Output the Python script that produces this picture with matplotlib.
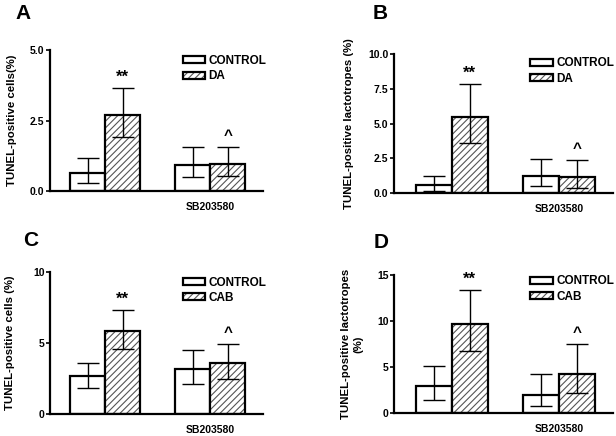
import matplotlib
matplotlib.use("Agg")
import matplotlib.pyplot as plt
from matplotlib.patches import Patch
from matplotlib.legend_handler import HandlerTuple

plt.rcParams['font.family'] = ['Liberation Sans', 'DejaVu Sans']
plt.rcParams['font.weight'] = 'bold'
plt.rcParams['hatch.linewidth'] = 0.8

groups = ["", "SB203580"]

# Panel A
a_ctrl = [0.63, 0.93]
a_ctrl_lo = [0.30, 0.51]
a_ctrl_hi = [1.16, 1.57]
a_trt = [2.70, 0.96]
a_trt_lo = [1.93, 0.53]
a_trt_hi = [3.66, 1.57]

# Panel B
b_ctrl = [0.60, 1.25]
b_ctrl_lo = [0.19, 0.48]
b_ctrl_hi = [1.20, 2.47]
b_trt = [5.47, 1.13]
b_trt_lo = [3.60, 0.36]
b_trt_hi = [7.84, 2.40]

# Panel C
c_ctrl = [2.64, 3.13]
c_ctrl_lo = [1.84, 2.12]
c_ctrl_hi = [3.60, 4.49]
c_trt = [5.84, 3.58]
c_trt_lo = [4.59, 2.49]
c_trt_hi = [7.29, 4.89]

# Panel D
d_ctrl = [2.96, 1.99]
d_ctrl_lo = [1.45, 0.72]
d_ctrl_hi = [5.13, 4.23]
d_trt = [9.65, 4.27]
d_trt_lo = [6.76, 2.13]
d_trt_hi = [13.37, 7.48]

panels = [
    dict(letter="A", treat="DA", ylabel="TUNEL-positive cells(%)",
         ymax=5.0, yticks=[0.0, 2.5, 5.0], fmt="{:.1f}",
         ctrl=a_ctrl, clo=a_ctrl_lo, chi=a_ctrl_hi,
         trt=a_trt, tlo=a_trt_lo, thi=a_trt_hi,
         pos=[0.0812, 0.562, 0.346, 0.323], xlim=(-0.524, 1.505),
         lpos=(-0.127, 1.262), legy=1.0, labelpad=9),
    dict(letter="B", treat="DA", ylabel="TUNEL-positive lactotropes (%)",
         ymax=10.0, yticks=[0.0, 2.5, 5.0, 7.5, 10.0], fmt="{:.1f}",
         ctrl=b_ctrl, clo=b_ctrl_lo, chi=b_ctrl_hi,
         trt=b_trt, tlo=b_trt_lo, thi=b_trt_hi,
         pos=[0.6396, 0.557, 0.356, 0.319], xlim=(-0.542, 1.505),
         lpos=(-0.064, 1.295), legy=1.01, labelpad=10),
    dict(letter="C", treat="CAB", ylabel="TUNEL-positive cells (%)",
         ymax=10, yticks=[0, 5, 10], fmt="{:.0f}",
         ctrl=c_ctrl, clo=c_ctrl_lo, chi=c_ctrl_hi,
         trt=c_trt, tlo=c_trt_lo, thi=c_trt_hi,
         pos=[0.0812, 0.0505, 0.346, 0.326], xlim=(-0.524, 1.505),
         lpos=(-0.089, 1.218), legy=1.0, labelpad=13),
    dict(letter="D", treat="CAB", ylabel="TUNEL-positive lactotropes\n(%)",
         ymax=15, yticks=[0, 5, 10, 15], fmt="{:.0f}",
         ctrl=d_ctrl, clo=d_ctrl_lo, chi=d_ctrl_hi,
         trt=d_trt, tlo=d_trt_lo, thi=d_trt_hi,
         pos=[0.6396, 0.0528, 0.356, 0.317], xlim=(-0.542, 1.505),
         lpos=(-0.06, 1.23), legy=1.03, labelpad=10),
]

fig = plt.figure(figsize=(6.16, 4.36), dpi=100)
w = 1 / 3
x = [0, 1]
hatch_col = "#555555"

for p in panels:
    ax = fig.add_axes(p["pos"])
    xc = [xi - w / 2 for xi in x]
    xt = [xi + w / 2 for xi in x]
    ax.bar(xc, p["ctrl"], width=w, color="white", edgecolor="black", linewidth=1.6, zorder=2)
    ax.bar(xt, p["trt"], width=w, color="white", edgecolor=hatch_col, hatch="/////", linewidth=0, zorder=2)
    ax.bar(xt, p["trt"], width=w, fill=False, edgecolor="black", linewidth=1.6, zorder=3)
    for xs, vals, lo, hi in [(xc, p["ctrl"], p["clo"], p["chi"]), (xt, p["trt"], p["tlo"], p["thi"])]:
        yerr = [[v - l for v, l in zip(vals, lo)], [h - v for v, h in zip(vals, hi)]]
        ax.errorbar(xs, vals, yerr=yerr, fmt="none", ecolor="black", elinewidth=1.0,
                    capsize=8, capthick=1.0, zorder=4)
    # significance marks
    ax.text(xt[0], p["thi"][0] + p["ymax"] * 0.025, "**", ha="center", va="bottom", fontsize=12)
    ax.text(xt[1], p["thi"][1] + p["ymax"] * 0.03, "^", ha="center", va="bottom", fontsize=11)

    ax.set_xlim(*p["xlim"])
    ax.set_ylim(0, p["ymax"])
    ax.set_yticks(p["yticks"])
    ax.set_yticklabels([p["fmt"].format(t) for t in p["yticks"]], fontsize=7.5, fontweight="bold")
    ax.set_xticks(x)
    ax.set_xticklabels(groups, fontsize=7.5, fontweight="bold")
    ax.tick_params(axis="x", length=0, pad=8)
    ax.tick_params(axis="y", length=3, width=1.2, pad=1)
    for s in ["top", "right"]:
        ax.spines[s].set_visible(False)
    for s in ["left", "bottom"]:
        ax.spines[s].set_linewidth(1.6)
    ax.set_ylabel(p["ylabel"], fontsize=8.2, fontweight="bold", labelpad=p["labelpad"])
    ax.text(p["lpos"][0], p["lpos"][1], p["letter"], transform=ax.transAxes, fontsize=15,
            fontweight="bold", ha="center", va="center")

    h_ctrl = Patch(facecolor="white", edgecolor="black", linewidth=1.6)
    h_trt = (Patch(facecolor="white", edgecolor=hatch_col, hatch="/////", linewidth=0),
             Patch(fill=False, edgecolor="black", linewidth=1.6))
    leg = ax.legend([h_ctrl, h_trt], ["CONTROL", p["treat"]],
                    handler_map={tuple: HandlerTuple(ndivide=1, pad=0)},
                    loc="upper left", bbox_to_anchor=(0.6, p["legy"]), frameon=False,
                    fontsize=8.5, handlelength=1.9, handleheight=0.55,
                    handletextpad=0.3, labelspacing=0.3, borderaxespad=0)
    for t in leg.get_texts():
        t.set_fontweight("bold")

fig.savefig("out.png", dpi=100, facecolor="white")
